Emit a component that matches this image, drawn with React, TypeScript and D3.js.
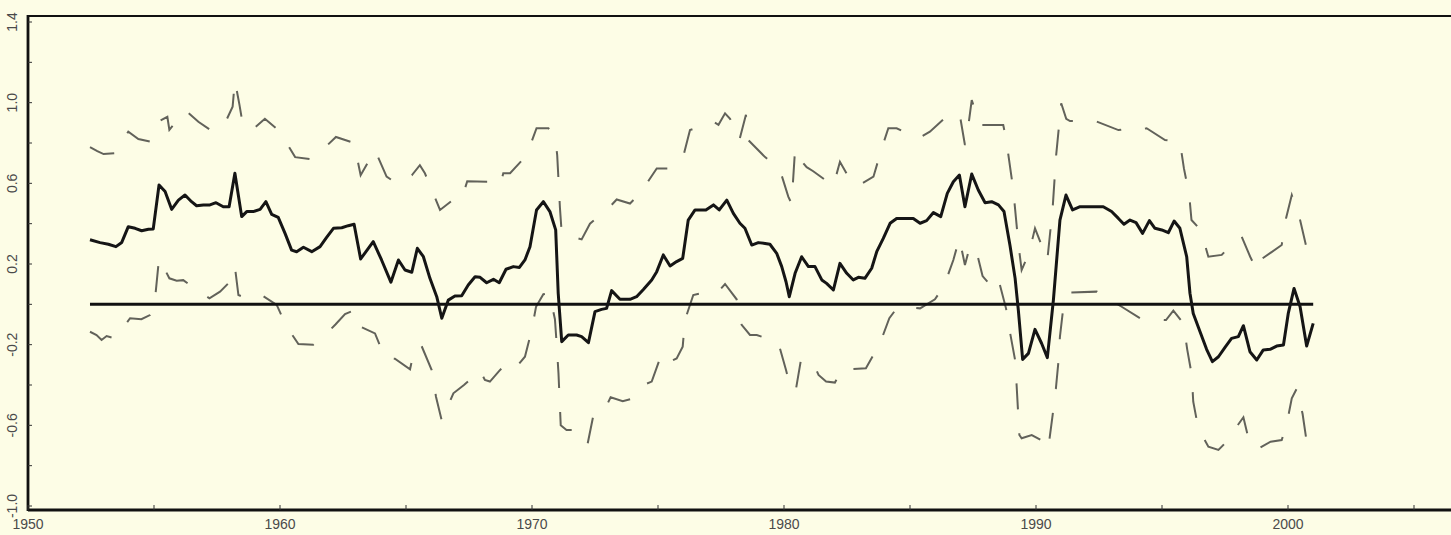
import * as d3 from 'd3'

type Pt = [number, number]

// central estimate (year, value)
const estimate: Pt[] = [
  [1952.46, 0.32], [1952.86, 0.306], [1953.19, 0.298], [1953.49, 0.286], [1953.72, 0.307],
  [1953.98, 0.385], [1954.25, 0.377], [1954.51, 0.365], [1954.78, 0.372], [1954.97, 0.374],
  [1955.2, 0.592], [1955.44, 0.559], [1955.7, 0.471], [1955.97, 0.517], [1956.23, 0.542],
  [1956.49, 0.509], [1956.69, 0.489], [1956.96, 0.493], [1957.22, 0.493], [1957.46, 0.504],
  [1957.75, 0.484], [1957.98, 0.484], [1958.21, 0.65], [1958.48, 0.435], [1958.68, 0.46],
  [1958.94, 0.46], [1959.21, 0.471], [1959.44, 0.509], [1959.67, 0.446], [1959.93, 0.431],
  [1960.2, 0.352], [1960.46, 0.269], [1960.66, 0.261], [1960.93, 0.283], [1961.26, 0.261],
  [1961.59, 0.286], [1961.85, 0.332], [1962.12, 0.377], [1962.45, 0.38], [1962.71, 0.39],
  [1962.94, 0.397], [1963.2, 0.225], [1963.7, 0.311], [1964.03, 0.22], [1964.4, 0.11],
  [1964.7, 0.22], [1964.96, 0.17], [1965.23, 0.159], [1965.45, 0.278], [1965.69, 0.236],
  [1965.95, 0.129], [1966.22, 0.038], [1966.42, -0.069], [1966.68, 0.021], [1966.94, 0.041],
  [1967.21, 0.043], [1967.47, 0.096], [1967.74, 0.137], [1967.94, 0.134], [1968.2, 0.107],
  [1968.47, 0.124], [1968.7, 0.107], [1968.97, 0.174], [1969.26, 0.187], [1969.5, 0.183],
  [1969.72, 0.22], [1969.92, 0.286], [1970.18, 0.468], [1970.45, 0.509], [1970.71, 0.46],
  [1970.94, 0.369], [1971.04, 0.055], [1971.18, -0.185], [1971.44, -0.152], [1971.77, -0.152],
  [1971.97, -0.16], [1972.24, -0.19], [1972.5, -0.036], [1972.76, -0.025], [1972.96, -0.02],
  [1973.16, 0.068], [1973.49, 0.025], [1973.89, 0.025], [1974.15, 0.038], [1974.42, 0.074],
  [1974.75, 0.121], [1974.95, 0.162], [1975.21, 0.245], [1975.48, 0.19], [1975.74, 0.212],
  [1975.98, 0.228], [1976.2, 0.418], [1976.47, 0.468], [1976.9, 0.468], [1977.2, 0.493],
  [1977.43, 0.468], [1977.73, 0.517], [1977.99, 0.451], [1978.25, 0.402], [1978.45, 0.377],
  [1978.72, 0.294], [1978.98, 0.306], [1979.25, 0.302], [1979.44, 0.298], [1979.71, 0.253],
  [1979.91, 0.187], [1980.08, 0.112], [1980.21, 0.038], [1980.44, 0.154], [1980.7, 0.236],
  [1980.97, 0.187], [1981.23, 0.187], [1981.5, 0.121], [1981.69, 0.104], [1981.96, 0.071],
  [1982.22, 0.203], [1982.49, 0.154], [1982.75, 0.121], [1982.95, 0.134], [1983.21, 0.129],
  [1983.48, 0.179], [1983.68, 0.261], [1983.94, 0.327], [1984.21, 0.402], [1984.47, 0.426],
  [1984.8, 0.426], [1985.13, 0.426], [1985.4, 0.402], [1985.66, 0.415], [1985.93, 0.455],
  [1986.22, 0.435], [1986.48, 0.55], [1986.72, 0.608], [1986.96, 0.641], [1987.18, 0.484],
  [1987.45, 0.646], [1987.71, 0.567], [1987.98, 0.504], [1988.24, 0.509], [1988.51, 0.493],
  [1988.73, 0.46], [1988.97, 0.29], [1989.17, 0.13], [1989.3, -0.03], [1989.47, -0.273],
  [1989.7, -0.243], [1989.96, -0.124], [1990.22, -0.193], [1990.45, -0.264], [1990.69, 0.021],
  [1990.95, 0.418], [1991.19, 0.542], [1991.45, 0.468], [1991.75, 0.484], [1992.14, 0.484],
  [1992.67, 0.484], [1993.0, 0.46], [1993.27, 0.426], [1993.49, 0.397], [1993.73, 0.418],
  [1993.97, 0.405], [1994.23, 0.352], [1994.5, 0.415], [1994.72, 0.377], [1994.99, 0.369],
  [1995.25, 0.355], [1995.48, 0.413], [1995.71, 0.377], [1995.98, 0.236], [1996.11, 0.055],
  [1996.24, -0.045], [1996.51, -0.136], [1996.77, -0.223], [1997.0, -0.284], [1997.24, -0.26],
  [1997.5, -0.213], [1997.76, -0.169], [1998.03, -0.16], [1998.23, -0.106], [1998.49, -0.235],
  [1998.76, -0.276], [1999.02, -0.226], [1999.29, -0.223], [1999.55, -0.207], [1999.82, -0.202],
  [2000.01, -0.045], [2000.24, 0.079], [2000.48, -0.012], [2000.74, -0.207], [2001.0, -0.094],
]

// upper band (dashed)
const upperBand: Pt[] = [
  [1952.46, 0.78], [1952.75, 0.76], [1953.0, 0.745], [1953.45, 0.75], [1953.98, 0.856],
  [1954.38, 0.82], [1954.84, 0.807], [1955.24, 0.91], [1955.53, 0.93], [1955.61, 0.865],
  [1955.97, 0.92], [1956.27, 0.96], [1956.76, 0.905], [1957.29, 0.86], [1957.78, 0.889],
  [1958.12, 0.98], [1958.21, 1.11], [1958.39, 0.99], [1958.54, 0.88], [1958.94, 0.87],
  [1959.4, 0.92], [1959.97, 0.86], [1960.6, 0.73], [1961.2, 0.72], [1961.72, 0.77],
  [1962.22, 0.83], [1962.94, 0.8], [1963.2, 0.64], [1963.77, 0.765], [1964.23, 0.633],
  [1964.63, 0.6], [1965.23, 0.64], [1965.55, 0.69], [1965.75, 0.65], [1966.35, 0.468],
  [1966.85, 0.517], [1967.2, 0.52], [1967.43, 0.61], [1968.4, 0.608], [1968.73, 0.587],
  [1968.86, 0.65], [1969.13, 0.65], [1969.79, 0.74], [1970.18, 0.873], [1970.65, 0.873],
  [1970.92, 0.83], [1971.0, 0.74], [1971.11, 0.476], [1971.18, 0.352], [1971.97, 0.322],
  [1972.3, 0.4], [1973.03, 0.476], [1973.36, 0.52], [1973.89, 0.5], [1974.29, 0.55],
  [1974.95, 0.674], [1975.41, 0.674], [1976.0, 0.732], [1976.27, 0.864], [1977.2, 0.905],
  [1977.4, 0.89], [1977.66, 0.947], [1977.86, 0.92], [1978.23, 0.815], [1978.49, 0.94],
  [1978.58, 0.815], [1979.25, 0.73], [1979.82, 0.674], [1980.17, 0.534], [1980.3, 0.5],
  [1980.37, 0.633], [1980.44, 0.77], [1980.63, 0.72], [1980.9, 0.68], [1981.16, 0.66],
  [1981.96, 0.587], [1982.22, 0.707], [1982.75, 0.59], [1983.1, 0.6], [1983.55, 0.633],
  [1983.88, 0.774], [1984.14, 0.873], [1984.47, 0.873], [1985.33, 0.823], [1985.79, 0.856],
  [1986.52, 0.939], [1986.92, 0.947], [1987.0, 0.922], [1987.18, 0.79], [1987.31, 0.88],
  [1987.45, 1.013], [1987.78, 0.889], [1988.3, 0.889], [1988.7, 0.889], [1988.81, 0.823],
  [1989.1, 0.567], [1989.3, 0.3], [1989.43, 0.17], [1989.73, 0.256], [1989.96, 0.377],
  [1990.45, 0.22], [1990.66, 0.476], [1990.8, 0.74], [1991.0, 0.997], [1991.2, 0.92],
  [1991.35, 0.909], [1992.41, 0.906], [1993.27, 0.864], [1993.6, 0.87], [1994.06, 0.864],
  [1994.39, 0.873], [1995.12, 0.815], [1995.71, 0.806], [1995.87, 0.674], [1996.08, 0.542],
  [1996.17, 0.418], [1996.53, 0.369], [1996.84, 0.236], [1997.37, 0.245], [1997.7, 0.29],
  [1998.16, 0.336], [1998.5, 0.236], [1998.76, 0.17], [1998.9, 0.22], [1999.75, 0.294],
  [1999.92, 0.426], [2000.15, 0.542], [2000.48, 0.418], [2000.71, 0.294], [2001.0, 0.4],
]

// lower band (dashed)
const lowerBand: Pt[] = [
  [1952.46, -0.136], [1952.72, -0.152], [1952.92, -0.177], [1953.12, -0.157], [1953.45, -0.169],
  [1954.05, -0.069], [1954.5, -0.074], [1954.84, -0.053], [1955.0, -0.025], [1955.2, 0.228],
  [1955.61, 0.129], [1955.9, 0.117], [1956.16, 0.12], [1956.67, 0.074], [1957.2, 0.03],
  [1957.62, 0.063], [1957.95, 0.104], [1958.21, 0.187], [1958.35, 0.046], [1958.68, 0.03],
  [1958.94, 0.041], [1959.27, 0.046], [1959.87, -0.003], [1960.26, -0.11], [1960.73, -0.197],
  [1961.32, -0.2], [1961.79, -0.152], [1962.2, -0.1], [1962.58, -0.048], [1962.98, -0.028],
  [1963.17, -0.11], [1963.77, -0.144], [1964.17, -0.268], [1964.56, -0.27], [1965.16, -0.322],
  [1965.36, -0.207], [1965.62, -0.207], [1966.02, -0.326], [1966.19, -0.458], [1966.42, -0.577],
  [1966.88, -0.441], [1967.3, -0.4], [1967.6, -0.367], [1967.93, -0.326], [1968.13, -0.375],
  [1968.33, -0.383], [1968.7, -0.33], [1969.06, -0.284], [1969.39, -0.309], [1969.72, -0.26],
  [1969.99, -0.127], [1970.16, -0.012], [1970.45, 0.05], [1970.69, 0.055], [1970.91, -0.074],
  [1970.98, -0.2], [1971.05, -0.34], [1971.14, -0.6], [1971.37, -0.623], [1971.9, -0.623],
  [1972.21, -0.69], [1972.43, -0.554], [1972.76, -0.507], [1972.93, -0.51], [1973.12, -0.461],
  [1973.6, -0.48], [1974.02, -0.466], [1974.42, -0.4], [1974.75, -0.383], [1975.15, -0.243],
  [1975.48, -0.284], [1975.74, -0.268], [1975.98, -0.21], [1976.07, -0.078], [1976.4, 0.046],
  [1976.9, 0.06], [1977.39, 0.063], [1977.66, 0.101], [1978.12, 0.025], [1978.32, -0.102],
  [1978.65, -0.152], [1978.92, -0.152], [1979.35, -0.17], [1979.78, -0.193], [1980.08, -0.326],
  [1980.3, -0.43], [1980.48, -0.417], [1980.66, -0.284], [1981.1, -0.276], [1981.37, -0.35],
  [1981.67, -0.383], [1982.02, -0.388], [1982.32, -0.317], [1982.55, -0.322], [1983.25, -0.317],
  [1983.81, -0.193], [1984.18, -0.069], [1984.47, -0.02], [1984.87, -0.012], [1985.4, -0.02],
  [1985.99, 0.025], [1986.35, 0.091], [1986.72, 0.22], [1986.96, 0.327], [1987.18, 0.195],
  [1987.38, 0.289], [1987.62, 0.273], [1987.88, 0.14], [1988.24, 0.088], [1988.5, 0.129],
  [1988.81, -0.02], [1988.97, -0.14], [1989.17, -0.276], [1989.23, -0.4], [1989.34, -0.648],
  [1989.43, -0.664], [1989.83, -0.648], [1990.2, -0.673], [1990.29, -0.722], [1990.53, -0.673],
  [1990.66, -0.549], [1990.79, -0.417], [1990.89, -0.284], [1990.95, -0.16], [1991.08, -0.02],
  [1991.32, 0.058], [1992.41, 0.063], [1993.4, -0.012], [1994.13, -0.069], [1995.16, -0.078],
  [1995.45, -0.031], [1995.85, -0.094], [1996.0, -0.223], [1996.18, -0.35], [1996.24, -0.483],
  [1996.44, -0.615], [1996.84, -0.706], [1997.24, -0.722], [1997.63, -0.673], [1998.0, -0.6],
  [1998.23, -0.56], [1998.47, -0.686], [1998.76, -0.72], [1999.31, -0.681], [1999.75, -0.673],
  [1999.95, -0.593], [2000.15, -0.466], [2000.35, -0.417], [2000.58, -0.544], [2000.74, -0.681],
  [2001.0, -0.6],
]

const xTickYears = [1950, 1960, 1970, 1980, 1990, 2000]
const xMinorYears = [1955, 1965, 1975, 1985, 1995, 2005]
const yTickValues = [-1.0, -0.6, -0.2, 0.2, 0.6, 1.0, 1.4]
const yTickLabels = ['-1.0', '-0.6', '-0.2', '0.2', '0.6', '1.0', '1.4']
const yMinorValues = [-0.8, -0.4, 0, 0.4, 0.8, 1.2]

export default function App() {
  const width = 1451
  const height = 535
  const left = 28
  const top = 16
  const bottom = 510

  const x = d3.scaleLinear([1950, 2000], [28, 1288])
  const y = d3.scaleLinear([-1.0, 1.4], [506, 22])

  const line = d3
    .line<Pt>()
    .x((d) => x(d[0]))
    .y((d) => y(d[1]))

  const first = estimate[0][0]
  const last = estimate[estimate.length - 1][0]
  const font = '"Liberation Sans", Arial, sans-serif'

  return (
    <svg
      width={width}
      height={height}
      style={{ position: 'absolute', left: 0, top: 0 }}
    >
      <rect width={width} height={height} fill="#fdfde6" />

      {/* bands */}
      <g fill="none" stroke="#62625a" strokeWidth={2} strokeDasharray="26,24">
        <path d={line(upperBand) ?? ''} />
        <path d={line(lowerBand) ?? ''} />
      </g>

      {/* zero line */}
      <line x1={x(first)} x2={x(last)} y1={y(0)} y2={y(0)} stroke="#111" strokeWidth={3} />

      {/* estimate */}
      <path
        d={line(estimate) ?? ''}
        fill="none"
        stroke="#151515"
        strokeWidth={3}
        strokeLinejoin="round"
      />

      {/* frame */}
      <line x1={left} x2={width} y1={top} y2={top} stroke="#111" strokeWidth={2} />
      <line x1={left} x2={width} y1={bottom} y2={bottom} stroke="#111" strokeWidth={2.8} />
      <line x1={left} x2={left} y1={top - 1} y2={bottom + 1} stroke="#111" strokeWidth={2.8} />

      {/* ticks */}
      <g stroke="#333" strokeWidth={1}>
        {xTickYears.concat(xMinorYears).map((t) => (
          <line key={t} x1={x(t)} x2={x(t)} y1={bottom} y2={bottom - 5} />
        ))}
        {yTickValues.concat(yMinorValues).map((t) => (
          <line key={t} x1={left} x2={left + 4} y1={y(t)} y2={y(t)} />
        ))}
      </g>

      <g fontFamily={font} fontSize={14} fill="#4a4a4a">
        {xTickYears.map((t) => (
          <text key={t} x={x(t)} y={bottom + 19} textAnchor="middle">
            {t}
          </text>
        ))}
        {yTickValues.map((t, i) => (
          <text
            key={t}
            transform={`translate(17,${y(t)}) rotate(-90)`}
            textAnchor="middle"
          >
            {yTickLabels[i]}
          </text>
        ))}
      </g>
    </svg>
  )
}
